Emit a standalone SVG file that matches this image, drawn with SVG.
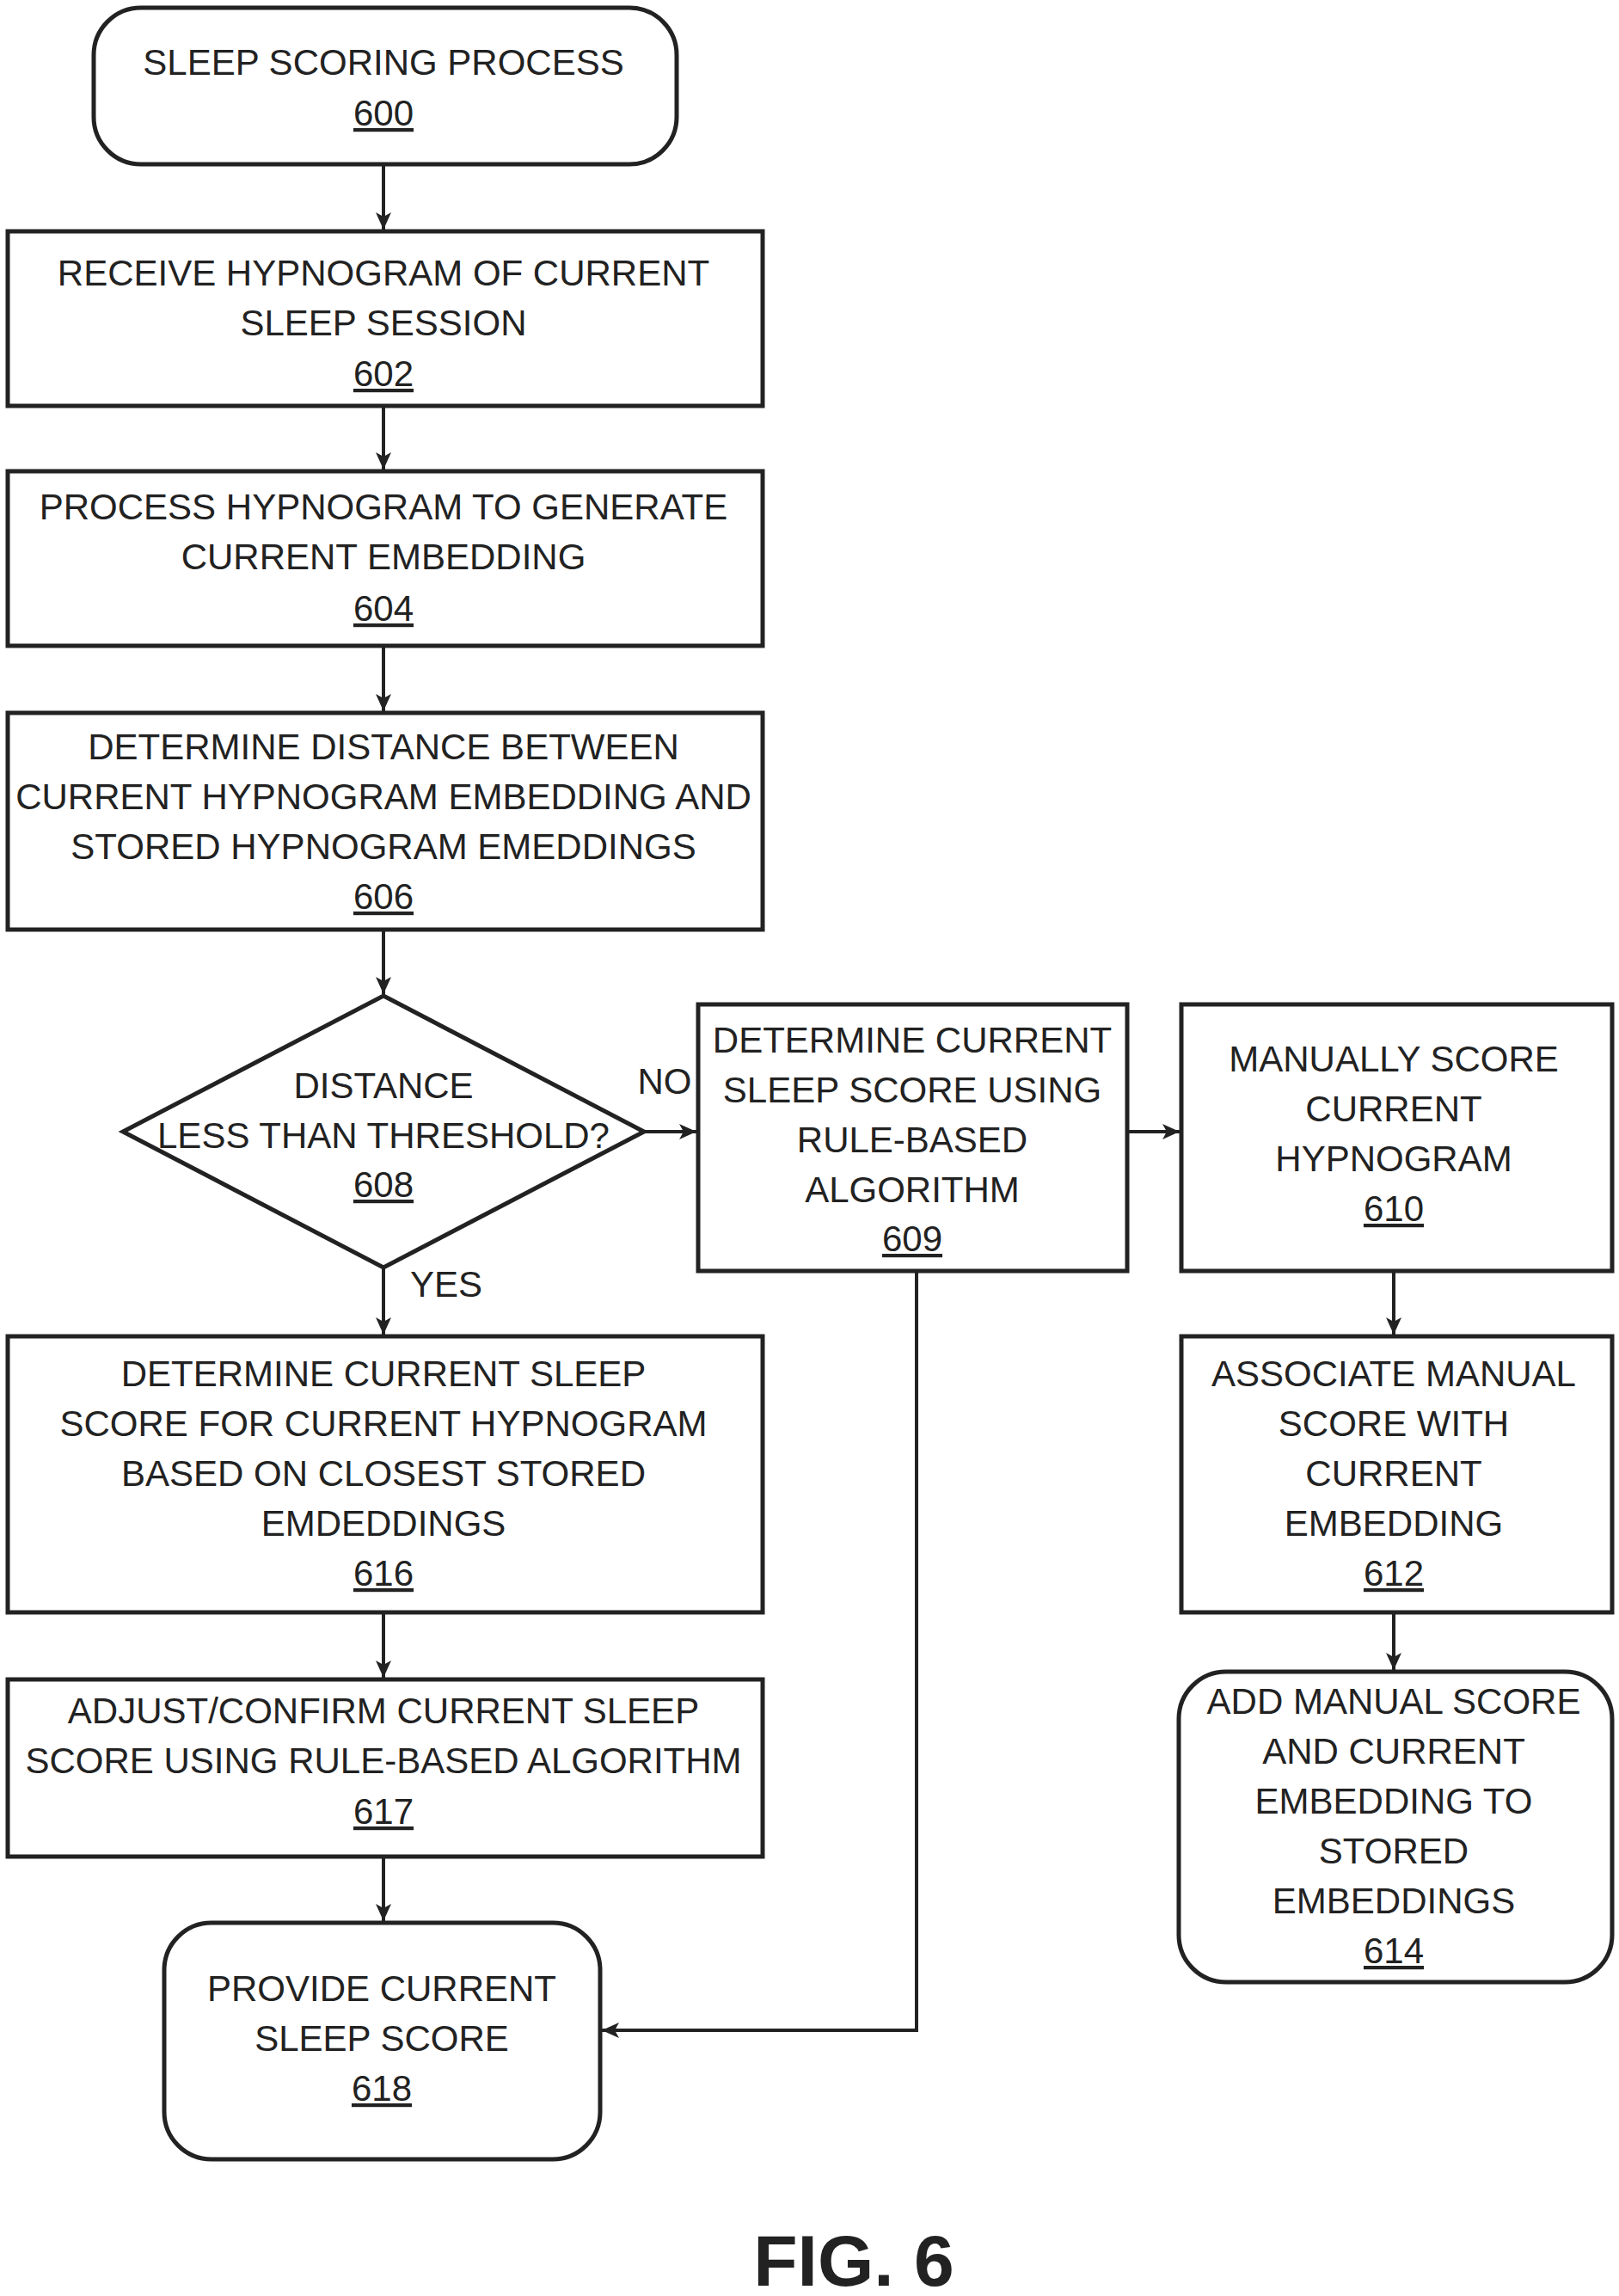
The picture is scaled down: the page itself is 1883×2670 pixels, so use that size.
<svg xmlns="http://www.w3.org/2000/svg" width="1883" height="2670" viewBox="0 0 1883 2670">
<style>
.b{fill:#fff;stroke:#222;stroke-width:5}
text{font-family:"Liberation Sans",Arial,sans-serif;font-size:42px;fill:#222;text-anchor:middle}
.u{text-decoration:underline}
.c{fill:none;stroke:#222;stroke-width:4}
</style>
<defs>
<marker id="m" markerWidth="22" markerHeight="22" refX="20" refY="11" orient="auto" markerUnits="userSpaceOnUse" viewBox="0 0 22 22"><path d="M0,2 L20,11 L0,20 L5,11 Z" fill="#222"/></marker></defs>
<g id="connectors">
<path class="c" marker-end="url(#m)" d="M446,191V267"/>
<path class="c" marker-end="url(#m)" d="M446,472V546"/>
<path class="c" marker-end="url(#m)" d="M446,751V827"/>
<path class="c" marker-end="url(#m)" d="M446,1081V1156"/>
<path class="c" marker-end="url(#m)" d="M446,1474V1552"/>
<path class="c" marker-end="url(#m)" d="M749,1316H810"/>
<path class="c" marker-end="url(#m)" d="M1311,1316H1372"/>
<path class="c" marker-end="url(#m)" d="M1621,1478V1552"/>
<path class="c" marker-end="url(#m)" d="M1621,1875V1942"/>
<path class="c" marker-end="url(#m)" d="M446,1875V1951"/>
<path class="c" marker-end="url(#m)" d="M446,2159V2234"/>
<path class="c" marker-end="url(#m)" d="M1066,1478V2361H700"/>
<text x="519" y="1508">YES</text>
<text x="773" y="1272">NO</text>
</g>
<g id="n600"><rect class="b" x="109" y="9" width="678" height="182" rx="55"/><text x="446" y="87">SLEEP SCORING PROCESS</text><text class="u" x="446" y="146">600</text></g>
<g id="n602"><rect class="b" x="9" y="269" width="878" height="203"/><text x="446" y="332">RECEIVE HYPNOGRAM OF CURRENT</text><text x="446" y="390">SLEEP SESSION</text><text class="u" x="446" y="449">602</text></g>
<g id="n604"><rect class="b" x="9" y="548" width="878" height="203"/><text x="446" y="604">PROCESS HYPNOGRAM TO GENERATE</text><text x="446" y="662">CURRENT EMBEDDING</text><text class="u" x="446" y="722">604</text></g>
<g id="n606"><rect class="b" x="9" y="829" width="878" height="252"/><text x="446" y="883">DETERMINE DISTANCE BETWEEN</text><text x="446" y="941">CURRENT HYPNOGRAM EMBEDDING AND</text><text x="446" y="999">STORED HYPNOGRAM EMEDDINGS</text><text class="u" x="446" y="1057">606</text></g>
<g id="n608"><path class="b" d="M446,1158L749,1316L446,1474L143,1316Z"/><text x="446" y="1277">DISTANCE</text><text x="446" y="1335">LESS THAN THRESHOLD?</text><text class="u" x="446" y="1392">608</text></g>
<g id="n609"><rect class="b" x="812" y="1168" width="499" height="310"/><text x="1061" y="1224">DETERMINE CURRENT</text><text x="1061" y="1282">SLEEP SCORE USING</text><text x="1061" y="1340">RULE-BASED</text><text x="1061" y="1398">ALGORITHM</text><text class="u" x="1061" y="1455">609</text></g>
<g id="n610"><rect class="b" x="1374" y="1168" width="501" height="310"/><text x="1621" y="1246">MANUALLY SCORE</text><text x="1621" y="1304">CURRENT</text><text x="1621" y="1362">HYPNOGRAM</text><text class="u" x="1621" y="1420">610</text></g>
<g id="n616"><rect class="b" x="9" y="1554" width="878" height="321"/><text x="446" y="1612">DETERMINE CURRENT SLEEP</text><text x="446" y="1670">SCORE FOR CURRENT HYPNOGRAM</text><text x="446" y="1728">BASED ON CLOSEST STORED</text><text x="446" y="1786">EMDEDDINGS</text><text class="u" x="446" y="1844">616</text></g>
<g id="n612"><rect class="b" x="1374" y="1554" width="501" height="321"/><text x="1621" y="1612">ASSOCIATE MANUAL</text><text x="1621" y="1670">SCORE WITH</text><text x="1621" y="1728">CURRENT</text><text x="1621" y="1786">EMBEDDING</text><text class="u" x="1621" y="1844">612</text></g>
<g id="n617"><rect class="b" x="9" y="1953" width="878" height="206"/><text x="446" y="2004">ADJUST/CONFIRM CURRENT SLEEP</text><text x="446" y="2062">SCORE USING RULE-BASED ALGORITHM</text><text class="u" x="446" y="2121">617</text></g>
<g id="n614"><rect class="b" x="1371" y="1944" width="504" height="361" rx="55"/><text x="1621" y="1993">ADD MANUAL SCORE</text><text x="1621" y="2051">AND CURRENT</text><text x="1621" y="2109">EMBEDDING TO</text><text x="1621" y="2167">STORED</text><text x="1621" y="2225">EMBEDDINGS</text><text class="u" x="1621" y="2283">614</text></g>
<g id="n618"><rect class="b" x="191" y="2236" width="507" height="275" rx="55"/><text x="444" y="2327">PROVIDE CURRENT</text><text x="444" y="2385">SLEEP SCORE</text><text class="u" x="444" y="2443">618</text></g>
<text x="993" y="2658" style="font-size:84px;font-weight:bold">FIG. 6</text>
</svg>
